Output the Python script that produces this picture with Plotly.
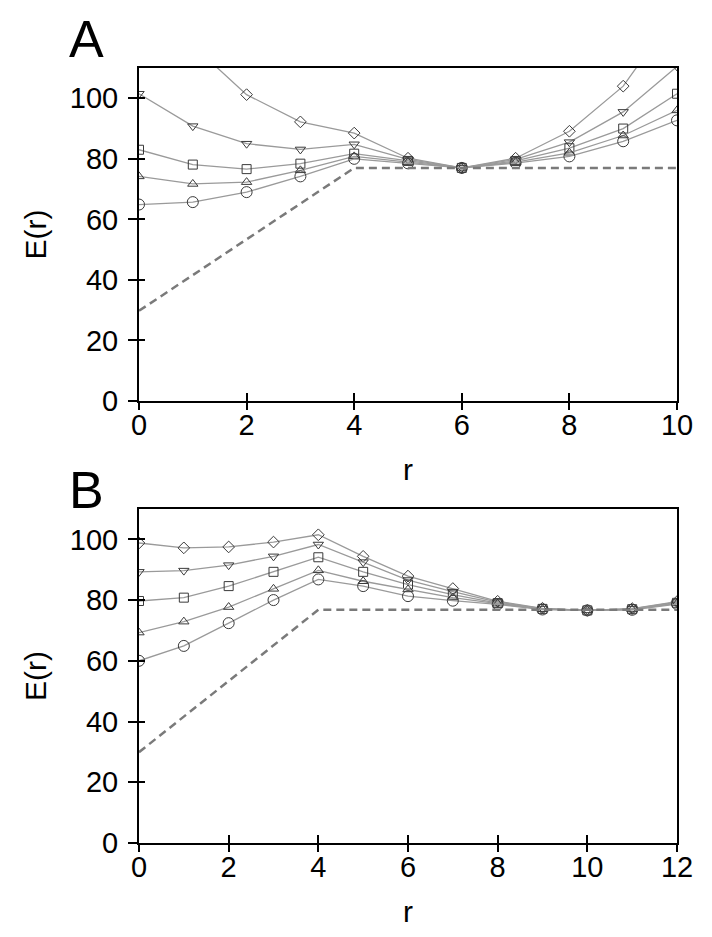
import plotly.graph_objects as go

# ---------------- data ----------------
r_A = [0, 1, 2, 3, 4, 5, 6, 7, 8, 9, 10]
A_diamond = [140.0, 117.5, 101.2, 92.2, 88.5, 80.2, 77.0, 80.2, 89.1, 104.0, 129.0]
A_tri_down = [101.5, 90.8, 85.0, 83.1, 84.8, 79.8, 77.0, 79.8, 85.5, 95.5, 110.5]
A_square = [83.0, 78.1, 76.6, 78.4, 81.7, 79.3, 77.0, 79.3, 83.5, 90.0, 101.5]
A_tri_up = [74.2, 71.7, 72.3, 76.2, 80.8, 78.9, 77.0, 78.9, 82.0, 87.7, 96.0]
A_circle = [64.9, 65.7, 69.0, 74.2, 80.0, 78.5, 77.0, 78.6, 80.8, 85.8, 92.7]
A_bound_r = [0, 4, 10]
A_bound_E = [29.8, 77.0, 77.0]

r_B = [0, 1, 2, 3, 4, 5, 6, 7, 8, 9, 10, 11, 12]
B_diamond = [98.8, 97.2, 97.5, 99.1, 101.5, 94.4, 87.9, 83.8, 79.6, 77.3, 76.6, 77.2, 79.5]
B_tri_down = [89.3, 89.7, 91.5, 94.4, 98.3, 92.5, 86.6, 82.8, 79.3, 77.2, 76.6, 77.1, 79.3]
B_square = [79.7, 80.8, 84.6, 89.3, 94.1, 89.3, 85.1, 81.8, 79.0, 77.1, 76.6, 77.0, 79.1]
B_tri_up = [69.3, 72.9, 77.7, 83.7, 89.8, 86.2, 83.5, 80.8, 78.8, 77.0, 76.6, 76.9, 78.9]
B_circle = [60.0, 64.9, 72.4, 80.0, 86.8, 84.6, 81.3, 79.8, 78.6, 76.9, 76.6, 76.8, 78.7]
B_bound_r = [0, 4, 12]
B_bound_E = [29.9, 76.8, 76.8]

panel_labels = ["A", "B"]
x_title = "r"
y_title = "E(r)"
y_ticks = [0, 20, 40, 60, 80, 100]

# ---------------- styling ----------------
FONT = "Liberation Sans, Arial, Helvetica, sans-serif"
LINE_COLOR = "#9a9a9a"
MARKER_COLOR = "#3a3a3a"
symbols = ["diamond-open", "triangle-down-open", "square-open", "triangle-up-open", "circle-open"]
sizes = [9, 9, 9, 9, 11]

fig = go.Figure()

def add_panel(xs, series, bx, by, xa, ya):
    for ys, sym, sz in zip(series, symbols, sizes):
        fig.add_trace(go.Scatter(
            x=xs, y=ys, mode="lines+markers", xaxis=xa, yaxis=ya,
            line=dict(color=LINE_COLOR, width=1.3),
            marker=dict(symbol=sym, size=sz, color=MARKER_COLOR,
                        line=dict(color=MARKER_COLOR, width=1)),
            showlegend=False, hoverinfo="skip"))
    fig.add_trace(go.Scatter(
        x=bx, y=by, mode="lines", xaxis=xa, yaxis=ya,
        line=dict(color="#7a7a7a", width=2.5, dash="8px,5px"),
        showlegend=False, hoverinfo="skip"))

add_panel(r_A, [A_diamond, A_tri_down, A_square, A_tri_up, A_circle], A_bound_r, A_bound_E, "x", "y")
add_panel(r_B, [B_diamond, B_tri_down, B_square, B_tri_up, B_circle], B_bound_r, B_bound_E, "x2", "y2")

tickfont = dict(family=FONT, size=29, color="black")
titlefont = dict(family=FONT, size=30, color="black")

def xaxis_main(rng, domain_anchor):
    return dict(range=rng, dtick=2, tick0=0, anchor=domain_anchor,
                showline=True, linecolor="black", linewidth=2, mirror=True,
                ticks="outside", ticklen=7, tickwidth=1.5, tickcolor="black",
                showgrid=False, zeroline=False, tickfont=tickfont,
                ticklabelstandoff=-10,
                title=dict(text=x_title, font=titlefont, standoff=19),
                automargin=False)

def yaxis_main(domain, anchor):
    return dict(range=[0, 110], tickvals=y_ticks, domain=domain, anchor=anchor,
                showline=True, linecolor="black", linewidth=2, mirror=True,
                ticks="outside", ticklen=9, tickwidth=1.5, tickcolor="black",
                showgrid=False, zeroline=False, tickfont=tickfont,
                ticklabelstandoff=4,
                title=dict(text=y_title, font=titlefont, standoff=14),
                automargin=False)

def overlay_x(rng, over, anchor):
    return dict(range=rng, dtick=2, tick0=0, overlaying=over, anchor=anchor, side="bottom",
                showline=False, ticks="inside", ticklen=8, tickwidth=1.5, tickcolor="black",
                showticklabels=False, showgrid=False, zeroline=False)

def overlay_y(over, anchor):
    return dict(range=[0, 110], tickvals=y_ticks, overlaying=over, anchor=anchor, side="left",
                showline=False, ticks="inside", ticklen=6, tickwidth=1.5, tickcolor="black",
                showticklabels=False, showgrid=False, zeroline=False)

# invisible traces to activate overlay axes
fig.add_trace(go.Scatter(x=[None], y=[None], xaxis="x3", yaxis="y3", showlegend=False))
fig.add_trace(go.Scatter(x=[None], y=[None], xaxis="x4", yaxis="y4", showlegend=False))

# page body adds an 8px offset, so the figure is sized/margined to compensate
fig.update_layout(
    width=696, height=921,
    paper_bgcolor="white", plot_bgcolor="white",
    margin=dict(l=131, r=27, t=60, b=86),
    font=dict(family=FONT, color="black"),
    xaxis=xaxis_main([0, 10], "y"),
    yaxis=yaxis_main([0.5703, 1.0], "x"),
    xaxis2=xaxis_main([0, 12], "y2"),
    yaxis2=yaxis_main([0.0, 0.431], "x2"),
    xaxis3=overlay_x([0, 10], "x", "y"),
    yaxis3=overlay_y("y", "x"),
    xaxis4=overlay_x([0, 12], "x2", "y2"),
    yaxis4=overlay_y("y2", "x2"),
    annotations=[
        dict(text=panel_labels[0], xref="paper", yref="paper", x=-0.0967, y=1.0374,
             xanchor="center", yanchor="middle", showarrow=False,
             font=dict(family=FONT, size=52, color="black")),
        dict(text=panel_labels[1], xref="paper", yref="paper", x=-0.0967, y=0.455,
             xanchor="center", yanchor="middle", showarrow=False,
             font=dict(family=FONT, size=52, color="black")),
    ],
)

fig.write_html("out.html")
